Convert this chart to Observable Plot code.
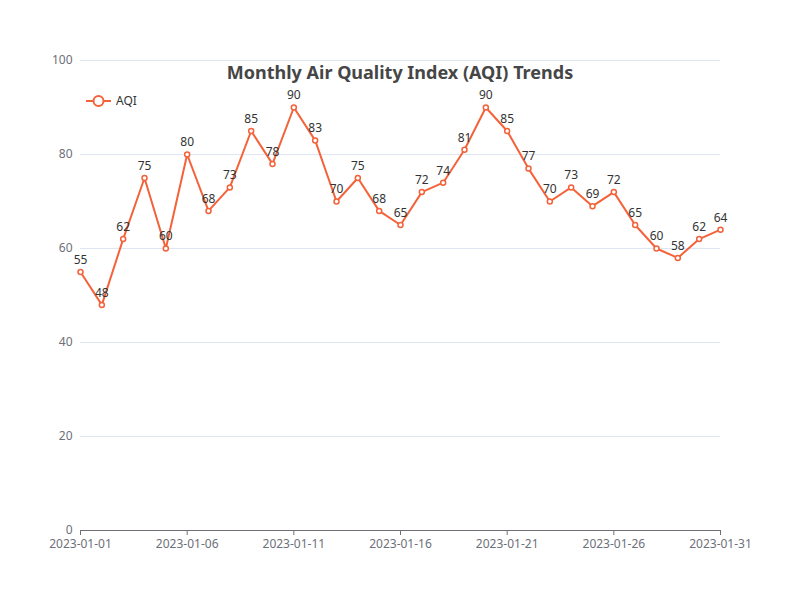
<!DOCTYPE html>
<html>
<head>
<meta charset="utf-8">
<script src="https://cdn.jsdelivr.net/npm/d3@7"></script>
<script src="https://cdn.jsdelivr.net/npm/@observablehq/plot@0.6"></script>
<style>
  body { margin: 0; background: #fff; font-family: "Microsoft YaHei", "Noto Sans", sans-serif; }
  #wrap { position: relative; width: 800px; height: 600px; }
  #title { position: absolute; top: 60px; left: 0; width: 800px; text-align: center;
           font-size: 18px; font-weight: bold; color: #464646; }
  #legend { position: absolute; top: 92px; left: 86px; font-size: 12px; color: #333;
            display: flex; align-items: center; gap: 5px; }
</style>
</head>
<body>
<div id="wrap">
  <div id="chart"></div>
  <div id="title">Monthly Air Quality Index (AQI) Trends</div>
  <div id="legend">
    <svg width="25" height="14"><line x1="0" y1="7" x2="25" y2="7" stroke="#f4623a" stroke-width="2"/>
      <circle cx="12.5" cy="7" r="5" fill="#fff" stroke="#f4623a" stroke-width="2"/></svg>
    <span>AQI</span>
  </div>
</div>
<script>
const days = d3.range(1, 32);
const aqi = [55, 48, 62, 75, 60, 80, 68, 73, 85, 78, 90, 83, 70, 75, 68, 65,
             72, 74, 81, 90, 85, 77, 70, 73, 69, 72, 65, 60, 58, 62, 64];
const tickDays = [1, 6, 11, 16, 21, 26, 31];

const data = days.map((d, i) => ({ date: new Date(Date.UTC(2023, 0, d)), aqi: aqi[i] }));
const color = "#f4623a";

const chart = Plot.plot({
  width: 800,
  height: 600,
  marginLeft: 80,
  marginRight: 80,
  marginTop: 60,
  marginBottom: 70,
  style: { fontSize: "12px", fontFamily: "Microsoft YaHei, Noto Sans, sans-serif" },
  x: {
    type: "utc",
    domain: [data[0].date, data[30].date],
    ticks: tickDays.map(d => new Date(Date.UTC(2023, 0, d))),
    tickFormat: d3.utcFormat("%Y-%m-%d"),
    label: null,
    tickSize: 5
  },
  y: { domain: [0, 100], ticks: [0, 20, 40, 60, 80, 100], label: null, tickSize: 0, tickPadding: 8 },
  marks: [
    Plot.gridY([20, 40, 60, 80, 100], { stroke: "#e0e6f1", strokeOpacity: 1 }),
    Plot.axisY({ ticks: [0, 20, 40, 60, 80, 100], tickSize: 0, tickPadding: 8, color: "#6e7079", label: null }),
    Plot.axisX({
      ticks: tickDays.map(d => new Date(Date.UTC(2023, 0, d))),
      tickFormat: d3.utcFormat("%Y-%m-%d"), tickSize: 5, color: "#6e7079", label: null
    }),
    Plot.ruleY([0], { stroke: "#6e7079" }),
    Plot.line(data, { x: "date", y: "aqi", stroke: color, strokeWidth: 2 }),
    Plot.dot(data, { x: "date", y: "aqi", r: 2.5, fill: "#fff", stroke: color, strokeWidth: 1.5 }),
    Plot.text(data, { x: "date", y: "aqi", text: "aqi", dy: -12, fill: "#333", fontSize: 12 })
  ]
});
document.getElementById("chart").appendChild(chart);
</script>
</body>
</html>
